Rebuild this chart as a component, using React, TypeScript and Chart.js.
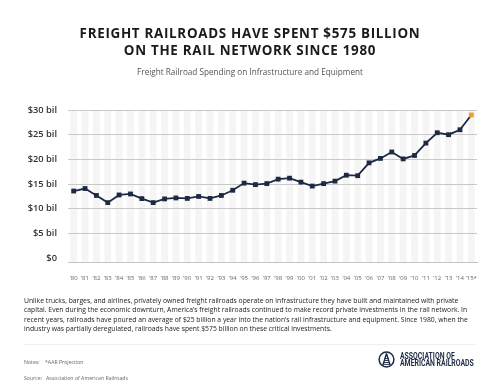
import React, { useEffect, useRef } from "react";
import { Chart, registerables } from "chart.js";

Chart.register(...registerables);

const years = [
  "’80", "’81", "’82", "’83", "’84", "’85", "’86", "’87", "’88", "’89",
  "’90", "’91", "’92", "’93", "’94", "’95", "’96", "’97", "’98", "’99",
  "’00", "’01", "’02", "’03", "’04", "’05", "’06", "’07", "’08", "’09",
  "’10", "’11", "’12", "’13", "’14", "’15*",
];

const spending = [
  13.6, 14.1, 12.7, 11.25, 12.8, 13.0, 12.06, 11.25, 12.0, 12.2,
  12.1, 12.5, 12.1, 12.7, 13.75, 15.2, 14.9, 15.1, 16.0, 16.2,
  15.4, 14.6, 15.1, 15.6, 16.8, 16.7, 19.3, 20.2, 21.5, 20.1,
  20.8, 23.3, 25.4, 25.0, 26.0, 29.0,
];

const projectedIndex = [35];
const yTicks = [0, 5, 10, 15, 20, 25, 30];

const NAVY = "#1d2a44";
const ORANGE = "#f0a032";

const stripesPlugin = {
  id: "stripes",
  beforeDraw(chart: any) {
    const { ctx, chartArea: a, scales } = chart;
    const x = scales.x;
    const w = (a.right - a.left) / years.length;
    ctx.save();
    ctx.fillStyle = "#f5f5f5";
    for (let i = 0; i < years.length; i++) {
      const cx = x.getPixelForValue(i);
      ctx.fillRect(cx - w * 0.3, a.top, w * 0.6, a.bottom - a.top);
    }
    ctx.restore();
  },
};

function LineChart() {
  const ref = useRef<HTMLCanvasElement | null>(null);
  useEffect(() => {
    if (!ref.current) return;
    const chart = new Chart(ref.current, {
      type: "line",
      data: {
        labels: years,
        datasets: [
          {
            data: spending,
            borderColor: NAVY,
            borderWidth: 1.8,
            pointStyle: "rect",
            pointRadius: 3.4,
            pointBackgroundColor: spending.map((_, i) => (projectedIndex.includes(i) ? ORANGE : NAVY)),
            pointBorderColor: spending.map((_, i) => (projectedIndex.includes(i) ? ORANGE : NAVY)),
            pointBorderWidth: 0,
            tension: 0,
          },
        ],
      },
      options: {
        responsive: false,
        animation: false,
        layout: { padding: { left: 0, right: 23, top: 110, bottom: 104 } },
        plugins: { legend: { display: false }, tooltip: { enabled: false }, title: { display: false } },
        scales: {
          x: {
            offset: true,
            grid: { display: false },
            border: { display: true, color: "#c4c4c4", width: 1 },
            ticks: {
              autoSkip: false,
              maxRotation: 0,
              minRotation: 0,
              padding: 5,
              color: "#666",
              font: { family: "'Open Sans'", size: 6 },
            },
            afterFit(scale: any) {
              scale.height = 20;
            },
          },
          y: {
            min: -0.77,
            max: 30,
            afterBuildTicks(scale: any) {
              scale.ticks = yTicks.map((v) => ({ value: v }));
            },
            afterFit(scale: any) {
              scale.width = 68;
            },
            grid: {
              drawTicks: false,
              color: (c: any) => (c.tick && c.tick.value === 0 ? "rgba(0,0,0,0)" : "#c8c8c8"),
              lineWidth: 1,
            },
            border: { display: false },
            ticks: {
              padding: 11,
              color: "#333",
              font: { family: "'Open Sans'", size: 9.3, weight: "600" },
              callback: (v: any) => (v === 0 ? "$0" : `$${v} bil`),
            },
          },
        },
      },
      plugins: [stripesPlugin],
    } as any);
    return () => chart.destroy();
  }, []);
  return <canvas ref={ref} width={500} height={386} style={{ position: "absolute", left: 0, top: 0 }} />;
}

function Logo() {
  return (
    <div style={{ position: "absolute", left: 378, top: 351, display: "flex", alignItems: "center" }}>
      <svg width="17" height="17" viewBox="0 0 17 17">
        <circle cx="8.5" cy="8.5" r="7.4" fill="none" stroke={NAVY} strokeWidth="1.5" />
        <path d="M8.5 2.5 L4.8 14.5 M8.5 2.5 L12.2 14.5" stroke={NAVY} strokeWidth="1.4" fill="none" />
        <path d="M6.8 7.5 H10.2 M6.2 9.5 H10.8 M5.6 11.5 H11.4 M5.1 13.4 H11.9" stroke={NAVY} strokeWidth="0.9" />
      </svg>
      <div
        style={{
          marginLeft: 5,
          fontFamily: "'Roboto', sans-serif",
          fontWeight: 700,
          fontSize: 8.2,
          lineHeight: "7px",
          color: NAVY,
          whiteSpace: "nowrap",
          transform: "scaleX(0.84)",
          transformOrigin: "left center",
        }}
      >
        ASSOCIATION OF
        <br />
        AMERICAN RAILROADS
      </div>
    </div>
  );
}

export default function App() {
  const base: React.CSSProperties = { position: "absolute", whiteSpace: "nowrap" };
  return (
    <div
      style={{
        position: "fixed",
        left: 0,
        top: 0,
        width: 500,
        height: 386,
        background: "#fff",
        overflow: "hidden",
        fontFamily: "'Open Sans', sans-serif",
      }}
    >
      <LineChart />
      <div
        style={{
          ...base,
          left: 0,
          width: 500,
          top: 25,
          textAlign: "center",
          fontWeight: 700,
          fontSize: 13.4,
          lineHeight: "16.5px",
          letterSpacing: 0.7,
          color: "#1a1a1a",
        }}
      >
        FREIGHT RAILROADS HAVE SPENT $575 BILLION
        <br />
        ON THE RAIL NETWORK SINCE 1980
      </div>
      <div style={{ ...base, left: 0, width: 500, top: 66, textAlign: "center", fontSize: 8.2, color: "#555" }}>
        Freight Railroad Spending on Infrastructure and Equipment
      </div>
      <div
        style={{
          ...base,
          left: 24,
          top: 296,
          fontSize: 6.8,
          lineHeight: "9.4px",
          color: "#222",
        }}
      >
        Unlike trucks, barges, and airlines, privately owned freight railroads operate on infrastructure they have built and maintained with private
        <br />
        capital. Even during the economic downturn, America’s freight railroads continued to make record private investments in the rail network. In
        <br />
        recent years, railroads have poured an average of $25 billion a year into the nation’s rail infrastructure and equipment. Since 1980, when the
        <br />
        industry was partially deregulated, railroads have spent $575 billion on these critical investments.
      </div>
      <div style={{ position: "absolute", left: 24, top: 344, width: 452, height: 1, background: "#f0f0f0" }} />
      <div style={{ ...base, left: 24, top: 358, fontSize: 5.2, color: "#666" }}>
        Notes:&nbsp;&nbsp;&nbsp;&nbsp;*AAR Projection
      </div>
      <div style={{ ...base, left: 24, top: 374, fontSize: 5.2, color: "#666" }}>
        Source:&nbsp;&nbsp;&nbsp;Association of American Railroads
      </div>
      <Logo />
    </div>
  );
}
